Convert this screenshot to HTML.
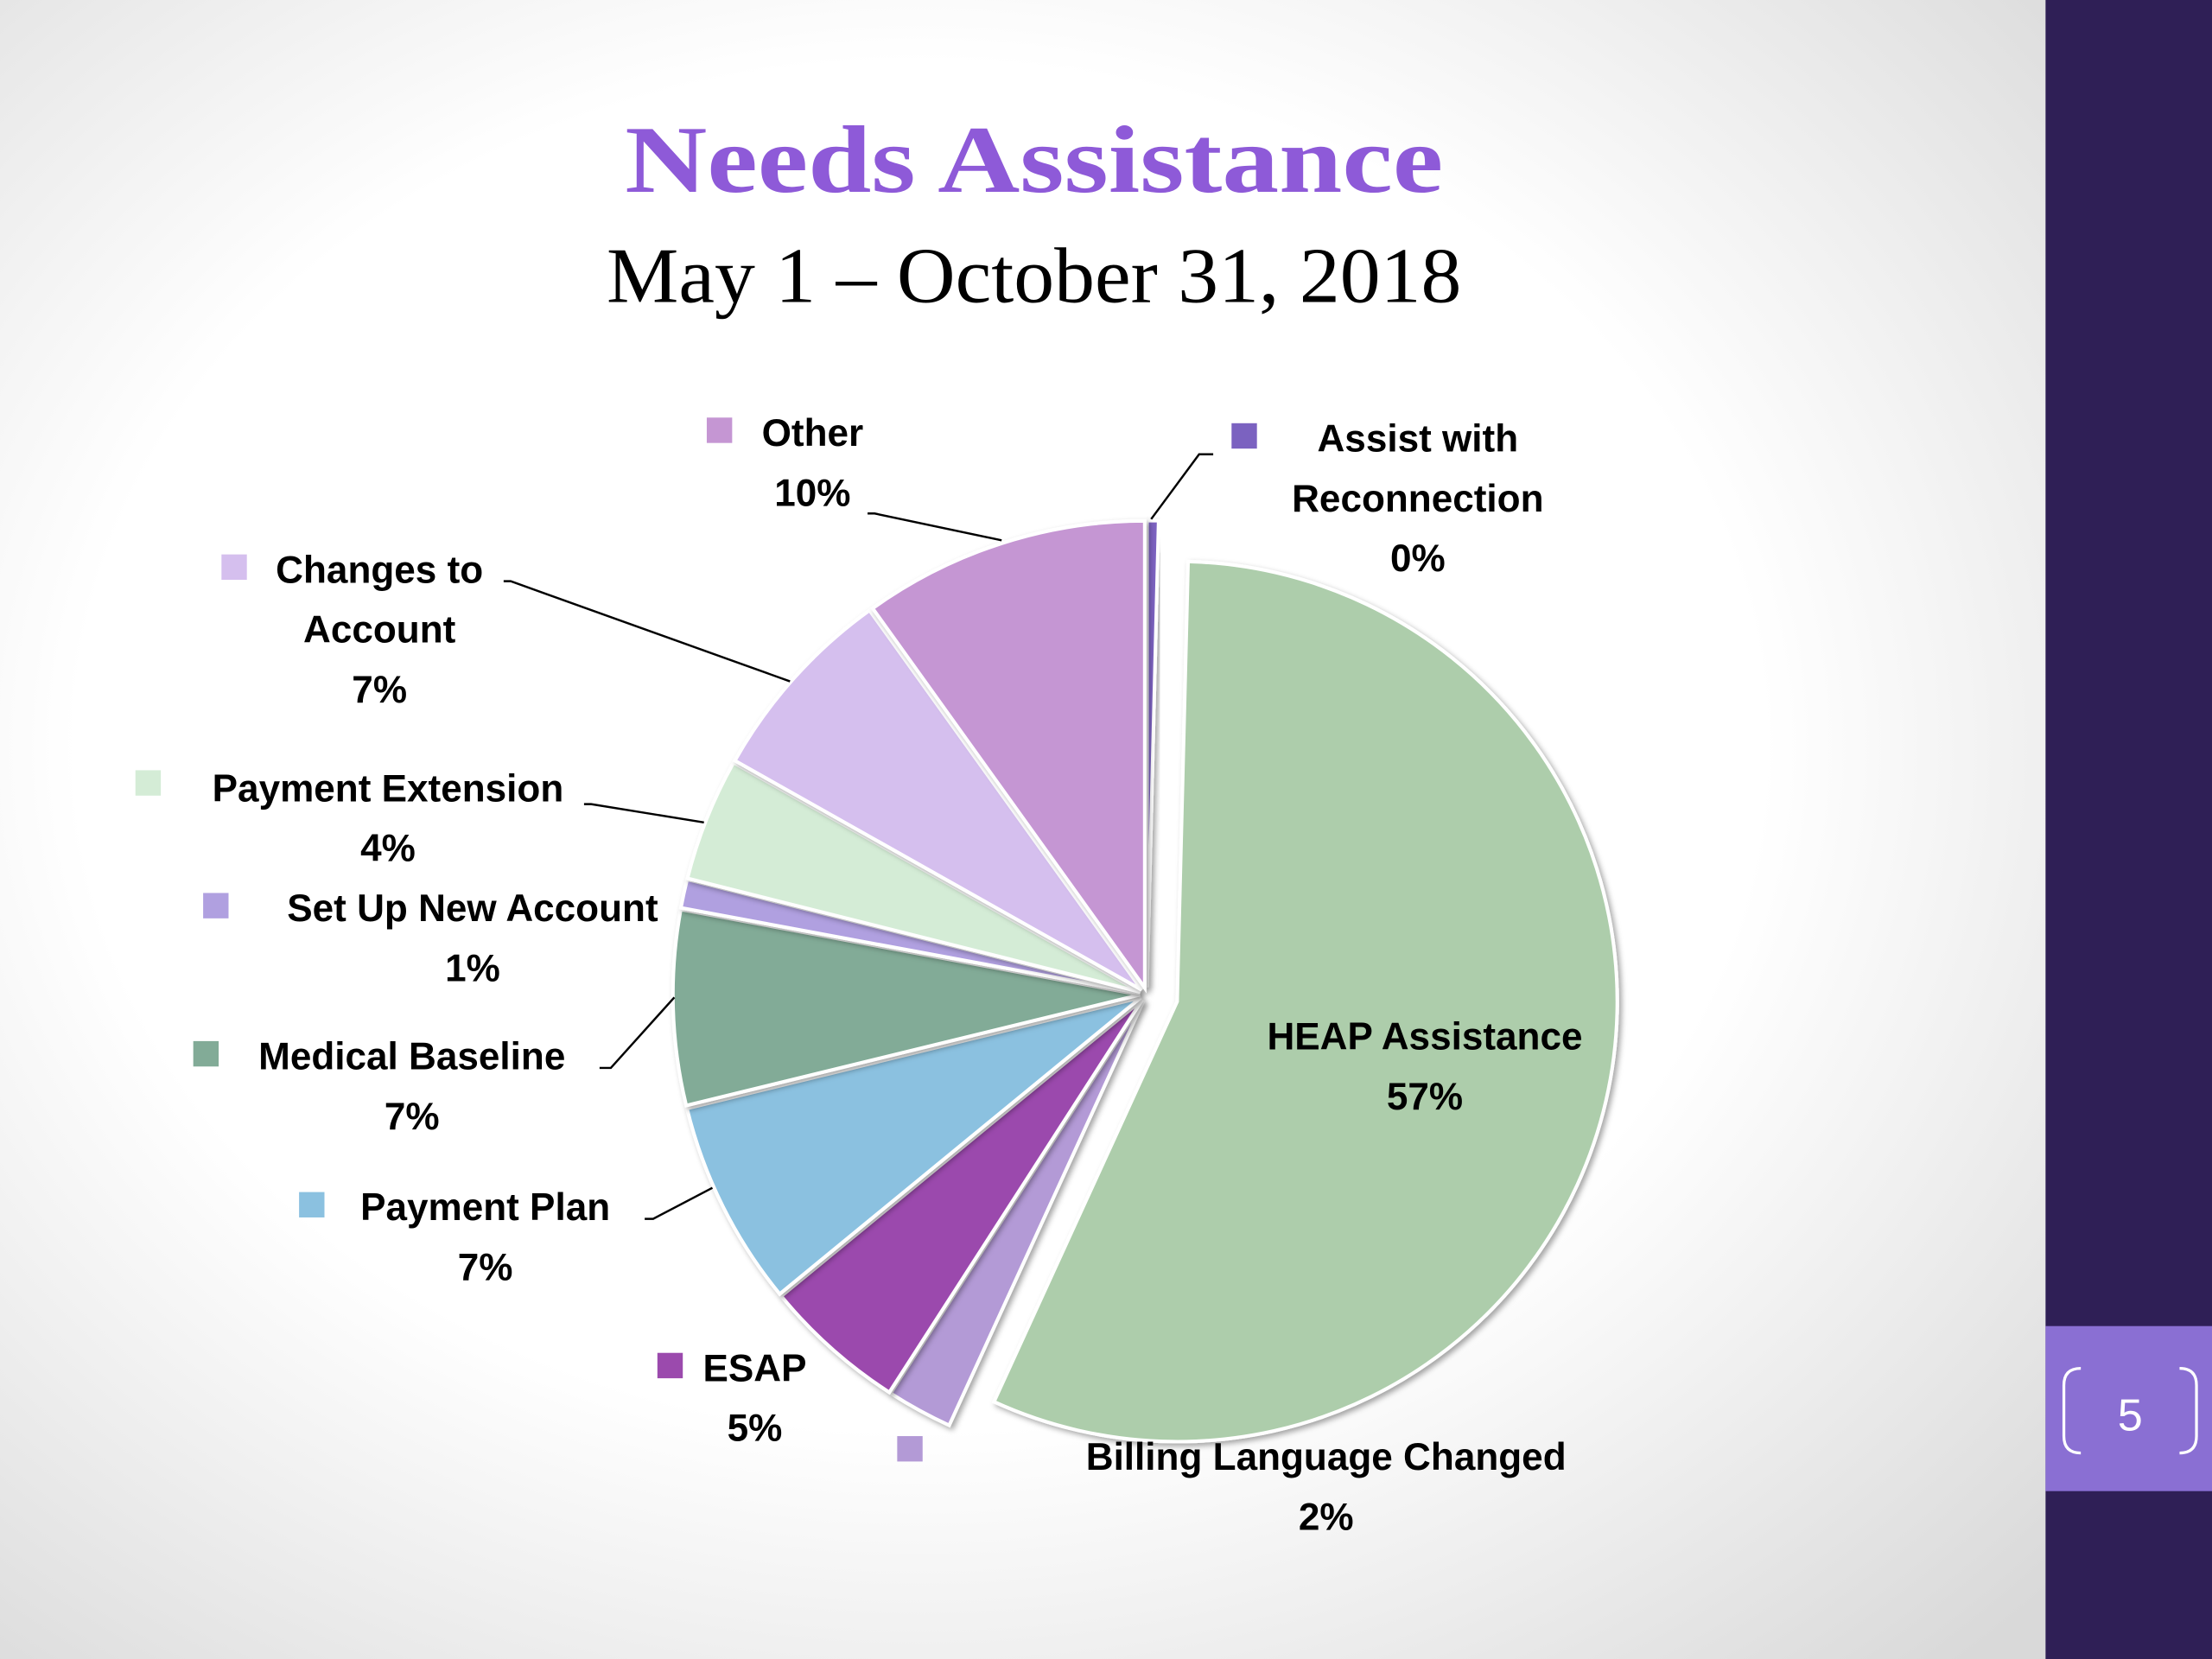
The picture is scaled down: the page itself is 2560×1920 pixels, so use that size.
<!DOCTYPE html>
<html><head><meta charset="utf-8"><style>
html,body{margin:0;padding:0;width:2560px;height:1920px;overflow:hidden;background:#fff}
svg{display:block}
</style></head><body>
<svg id="chart" width="2560" height="1920" viewBox="0 0 1568 1176" xmlns="http://www.w3.org/2000/svg">
<defs>
<radialGradient id="bg" cx="0.45" cy="0.45" r="0.75">
<stop offset="0.55" stop-color="#ffffff"/><stop offset="1" stop-color="#d9d9d9"/>
</radialGradient>
<filter id="sh" x="-10%" y="-10%" width="120%" height="120%"><feDropShadow dx="2" dy="2" stdDeviation="2" flood-color="#000" flood-opacity="0.35"/></filter>
</defs>
<rect x="0" y="0" width="1450" height="1176" fill="url(#bg)"/>
<rect x="1450" y="0" width="118" height="1176" fill="#2f1f56"/>
<rect x="1450" y="940" width="118" height="117" fill="#8a6fd3"/>
<path d="M1475,970 q-12,0 -12,12 v36 q0,12 12,12 M1545,970 q12,0 12,12 v36 q0,12 -12,12" fill="none" stroke="#fff" stroke-width="2"/>
<text x="1510" y="1014" text-anchor="middle" font-family="Liberation Sans, sans-serif" font-size="32" fill="#fff">5</text>
<text x="733" y="136" text-anchor="middle" font-family="Liberation Serif, serif" font-weight="bold" font-size="68" fill="#8e5ad8" textLength="580" lengthAdjust="spacingAndGlyphs">Needs Assistance</text>
<text x="733" y="214" text-anchor="middle" font-family="Liberation Serif, serif" font-size="56" fill="#000" textLength="606" lengthAdjust="spacingAndGlyphs">May 1 – October 31, 2018</text>
<g id="pie"></g>
<g id="labels"></g>
</svg>
<script>
const categories = ["Assist with Reconnection","HEAP Assistance","Billing Language Changed","ESAP","Payment Plan","Medical Baseline","Set Up New Account","Payment Extension","Changes to Account","Other"];
const values = [0.4,57,2.3,5,7.2,6.8,1,4.3,7,10];
const printed = ["0%","57%","2%","5%","7%","7%","1%","4%","7%","10%"];
const colors = ["#7b62c0","#adcdab","#b39ad6","#9b4aad","#8bc1e0","#82ab97","#b0a0e0","#d4ecd6","#d5bfee","#c596d3"];
const NS="http://www.w3.org/2000/svg";
const cx=813, cy=705, R=331;
const total=values.reduce((a,b)=>a+b,0);
const pie=document.getElementById('pie');
let acc=0;
function angle(v){return -Math.PI/2 + v/total*2*Math.PI;}
values.forEach((v,i)=>{
  const a0=angle(acc), a1=angle(acc+v); acc+=v;
  const am=(a0+a1)/2;
  const ex = i===1?22:5;
  const r = i===1?312:R;
  const ox=cx+ex*Math.cos(am), oy=cy+ex*Math.sin(am);
  const large=(a1-a0)>Math.PI?1:0;
  const d=`M${ox},${oy} L${ox+r*Math.cos(a0)},${oy+r*Math.sin(a0)} A${r},${r} 0 ${large} 1 ${ox+r*Math.cos(a1)},${oy+r*Math.sin(a1)} Z`;
  const p=document.createElementNS(NS,'path');
  p.setAttribute('d',d);p.setAttribute('fill',colors[i]);p.setAttribute('stroke','#fff');p.setAttribute('stroke-width','2.5');p.setAttribute('filter','url(#sh)');
  
  
  pie.appendChild(p);
});
const layout=[
 [["Assist with","Reconnection"],1005,320,882,309,"M816,368 L850,322 L860,322"],
 [["HEAP Assistance"],1010,744,null,null,null],
 [["Billing Language Changed"],940,1042,645,1027,null],
 [["ESAP"],535,979,475,968,null],
 [["Payment Plan"],344,865,221,854,"M457,864 L463,864 L505,842"],
 [["Medical Baseline"],292,758,146,747,"M425,757 L433,757 L478,707"],
 [["Set Up New Account"],335,653,153,642,null],
 [["Payment Extension"],275,568,105,555,"M414,570 L419,570 L499,583"],
 [["Changes to","Account"],269,413,166,402,"M357,412 L362,412 L560,483"],
 [["Other"],576,316,510,305,"M615,364 L620,364 L710,383"]
];
const lg=document.getElementById('labels');
layout.forEach((L,i)=>{
  const [lines,x,y,mx,my,ld]=L;
  const g=document.createElementNS(NS,'g');
  
  
  const all=lines.concat([printed[i]]);
  all.forEach((t,k)=>{
    const tx=document.createElementNS(NS,'text');
    tx.setAttribute('x',x);tx.setAttribute('y',y+k*42.5);
    tx.setAttribute('text-anchor','middle');
    tx.setAttribute('font-family','Liberation Sans, sans-serif');
    tx.setAttribute('font-weight','bold');tx.setAttribute('font-size','27');
    tx.textContent=t;g.appendChild(tx);
  });
  if(mx!==null){
    const m=document.createElementNS(NS,'rect');
    m.setAttribute('x',mx-9);m.setAttribute('y',my-9);m.setAttribute('width',18);m.setAttribute('height',18);
    m.setAttribute('fill',colors[i]);g.appendChild(m);
  }
  if(ld){
    const p=document.createElementNS(NS,'path');
    p.setAttribute('d',ld);p.setAttribute('fill','none');p.setAttribute('stroke','#000');p.setAttribute('stroke-width','1.5');
    g.appendChild(p);
  }
  lg.appendChild(g);
});
</script>
</body></html>
